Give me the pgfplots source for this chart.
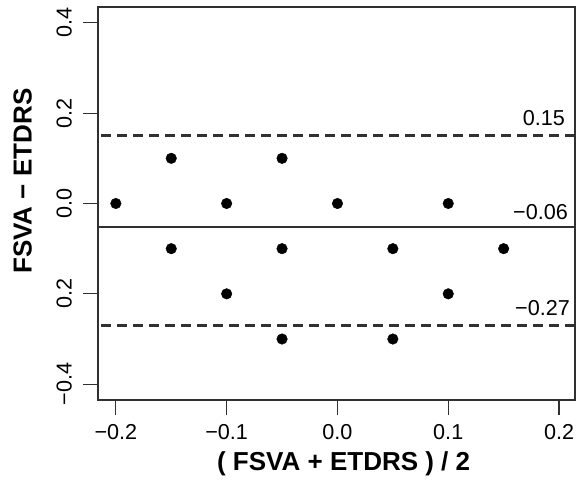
\documentclass[border=0pt]{standalone}
\usepackage{fontspec}
\setmainfont{Liberation Sans}
\usepackage{pgfplots}
\pgfplotsset{compat=1.18}
\definecolor{ink}{HTML}{303030}
\begin{document}
\begin{tikzpicture}
\begin{axis}[
  at={(0,0)}, anchor=south west,
  scale only axis, width=477pt, height=393pt,
  xmin=-0.2161, xmax=0.2144, ymin=-0.435, ymax=0.435,
  axis line style={line width=1.3pt, color=ink},
  xtick={-0.2,-0.1,0,0.1,0.2}, xticklabels={−0.2,−0.1,0.0,0.1,0.2},
  ytick={-0.4,-0.2,0,0.2,0.4}, yticklabels={−0.4,0.2,0.0,0.2,0.4},
  tick align=outside, major tick length=15pt,
  tick style={line width=1.3pt, color=ink},
  xtick pos=lower, ytick pos=left,
  ticklabel style={font=\fontsize{21.6}{24}\selectfont},
  xticklabel style={anchor=north, inner sep=0pt, yshift=-9pt},
  yticklabel style={rotate=90, anchor=south, inner sep=0pt, yshift=11pt},
  xlabel={( FSVA + ETDRS ) / 2}, ylabel={FSVA − ETDRS},
  label style={font=\bfseries\fontsize{26}{30}\selectfont},
  xlabel style={at={(axis description cs:0.515,-0.163)}, anchor=center},
  ylabel style={at={(axis description cs:-0.158,0.557)}, anchor=center},
  clip=true,
]
\addplot[ink, line width=2.5pt, dash pattern=on 10pt off 6pt] coordinates {(-0.3,0.15) (0.3,0.15)};
\addplot[ink, line width=2.5pt] coordinates {(-0.3,-0.052) (0.3,-0.052)};
\addplot[ink, line width=2.5pt, dash pattern=on 10pt off 6pt] coordinates {(-0.3,-0.27) (0.3,-0.27)};
\addplot[only marks, mark=*, mark size=5.3pt, color=black] coordinates {
 (-0.2,0) (-0.15,0.1) (-0.1,0) (-0.05,0.1) (0,0) (0.1,0)
 (-0.15,-0.1) (-0.05,-0.1) (0.05,-0.1) (0.15,-0.1)
 (-0.1,-0.2) (0.1,-0.2) (-0.05,-0.3) (0.05,-0.3)};
\node[anchor=south east, inner sep=0pt, font=\fontsize{21.6}{24}\selectfont] at (axis cs:0.2054,0.15) [yshift=10pt] {0.15};
\node[anchor=south east, inner sep=0pt, font=\fontsize{21.6}{24}\selectfont] at (axis cs:0.2081,-0.052) [yshift=7pt] {−0.06};
\node[anchor=south east, inner sep=0pt, font=\fontsize{21.6}{24}\selectfont] at (axis cs:0.2099,-0.27) [yshift=10pt] {−0.27};
\end{axis}
\pgfresetboundingbox
\path[use as bounding box] (-98pt,-97pt) rectangle (480pt,400pt);
\end{tikzpicture}
\end{document}
